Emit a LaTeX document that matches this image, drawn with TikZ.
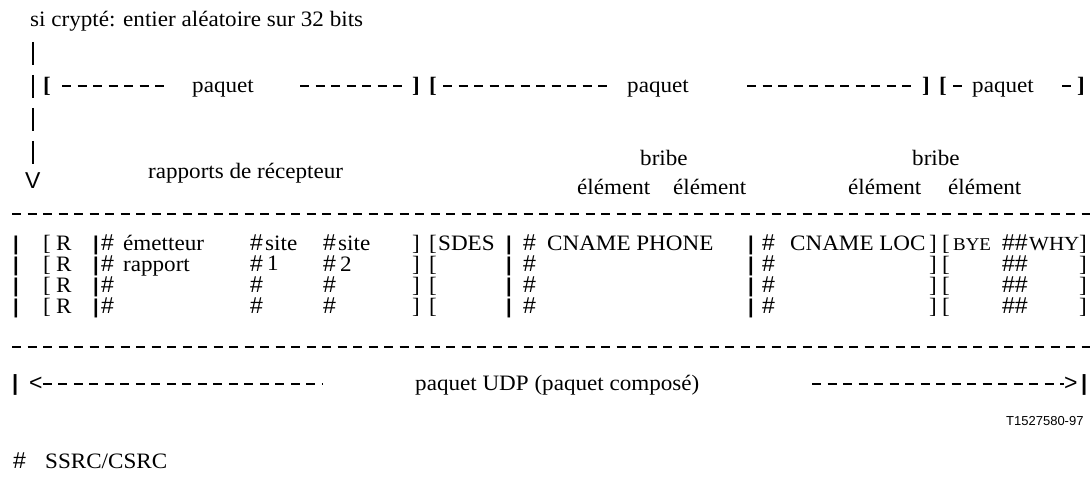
\documentclass[tikz,border=0pt]{standalone}
\usepackage{fontspec}
\setmainfont{Liberation Serif}[FakeStretch=1.05]
\newfontfamily\arialfont{Liberation Sans}
\usetikzlibrary{positioning}

\begin{document}
\begin{tikzpicture}
		[x=1pt,y=-1pt,
			every node/.style={anchor=base west,inner sep=0pt},
			txt/.style={font=\fontsize{22}{22}\selectfont},
			gras/.style={font=\bfseries\fontsize{22}{22}\selectfont},
			petit/.style={font=\fontsize{18}{18}\selectfont},
			sym/.style={font=\arialfont\fontsize{23}{23}\selectfont},
			barre/.style={font=\arialfont\bfseries\fontsize{20}{20}\selectfont},
			tirets/.style={line width=1.6pt,dash pattern=on 9pt off 6.5pt},
			montant/.style={line width=2.6pt,dash pattern=on 23pt off 10pt}]
		\useasboundingbox (0,0) rectangle (1090,478);
		% en-tete
		\node[txt] (crypt) at (30,27) {si crypté: entier aléatoire sur 32 bits};
		\coordinate (haut) at (33,42);
		\coordinate (bas) at (33,165);
		\draw[montant] (haut) -- (bas);
		\node[sym] (pointe) at (25,189) {V};
		% paquets
		\node[gras] (ouv1) at (43,93) {[};
		\node[txt] (paq1) at (192,93) {paquet};
		\node[gras] (fer1) at (412,93) {]};
		\node[gras] (ouv2) at (429,93) {[};
		\node[txt] (paq2) at (627,93) {paquet};
		\node[gras] (fer2) at (922,93) {]};
		\node[gras] (ouv3) at (939,93) {[};
		\node[txt] (paq3) at (972,93) {paquet};
		\node[gras] (fer3) at (1077,93) {]};
		\draw[tirets] (62,86) -- (164,86);
		\draw[tirets] (300,86) -- (402,86);
		\draw[tirets] (443,86) -- (607,86);
		\draw[tirets] (747,86) -- (911,86);
		\draw[tirets] (953,86) -- (962,86);
		\draw[tirets] (1062,86) -- (1071,86);
		% titres
		\node[txt] (rapp) at (148,179) {rapports de récepteur};
		\node[txt] (bribe1) at (640,166) {bribe};
		\node[txt] (elem1) at (577,195) {élément};
		\node[txt] (elem2) at (673,195) {élément};
		\node[txt] (bribe2) at (912,166) {bribe};
		\node[txt] (elem3) at (848,195) {élément};
		\node[txt] (elem4) at (948,195) {élément};
		\draw[tirets] (12,214) -- (1090,214);
		\draw[tirets] (12,347) -- (1090,347);
		% lignes du paquet
		\foreach \y [count=\r] in {251,272,293,314} {
			\node[barre] (b\r) at (13,\y) {|};
			\node[txt] (o\r) at (43,\y) {[};
			\node[txt] (R\r) at (56,\y) {R};
			\node[barre] (c\r) at (93,\y) {|};
			\node[sym] (d\r) at (101,\y) {\#};
			\node[sym] (e\r) at (250,\y) {\#};
			\node[sym] (f\r) at (323,\y) {\#};
			\node[txt] (g\r) at (412,\y) {]};
			\node[txt] (h\r) at (429,\y) {[};
			\node[barre] (i\r) at (506,\y) {|};
			\node[sym] (j\r) at (523,\y) {\#};
			\node[barre] (k\r) at (748,\y) {|};
			\node[sym] (l\r) at (762,\y) {\#};
			\node[txt] (m\r) at (929,\y) {]};
			\node[txt] (n\r) at (942,\y) {[};
			\node[sym] (q\r) at (1002,\y) {\#\#};
			\node[txt] (s\r) at (1079,\y) {]};
		}
		\node[txt] (emet) at (123,251) {émetteur};
		\node[txt] (site1) at (265,251) {site};
		\node[txt] (site2) at (338,251) {site};
		\node[txt] (sdes) at (438,251) {SDES};
		\node[txt] (phone) at (547,251) {CNAME PHONE};
		\node[txt] (loc) at (790,251) {CNAME LOC};
		\node[petit] (bye) at (953,251) {BYE};
		\node[petit,font=\fontsize{20}{20}\selectfont] (why) at (1029,251) {WHY};
		\node[txt] (rapport) at (123,272) {rapport};
		\node[txt] (un) at (267,271) {1};
		\node[txt] (deux) at (340,272) {2};
		% paquet UDP
		\node[barre,font=\arialfont\bfseries\fontsize{22}{22}\selectfont] (gauche) at (12,391) {|};
		\node[sym] (lt) at (29,391) {<};
		\node[txt] (udp) at (415,391) {paquet UDP (paquet composé)};
		\node[sym] (gt) at (1064,391) {>};
		\node[barre,font=\arialfont\bfseries\fontsize{22}{22}\selectfont] (droite) at (1081,391) {|};
		\coordinate (finG) at (322,384);
		\coordinate (debD) at (812,384);
		\draw[tirets] (lt.east |- finG) -- (finG);
		\draw[tirets] (debD) -- (gt.west |- debD);
		\node[font=\arialfont\fontsize{13}{13}\selectfont] (ref) at (1006,425) {T1527580-97};
		% legende
		\node[sym] (diese) at (13,468) {\#};
		\node[txt] (ssrc) at (45,468) {SSRC/CSRC};
	\end{tikzpicture}
\end{document}
